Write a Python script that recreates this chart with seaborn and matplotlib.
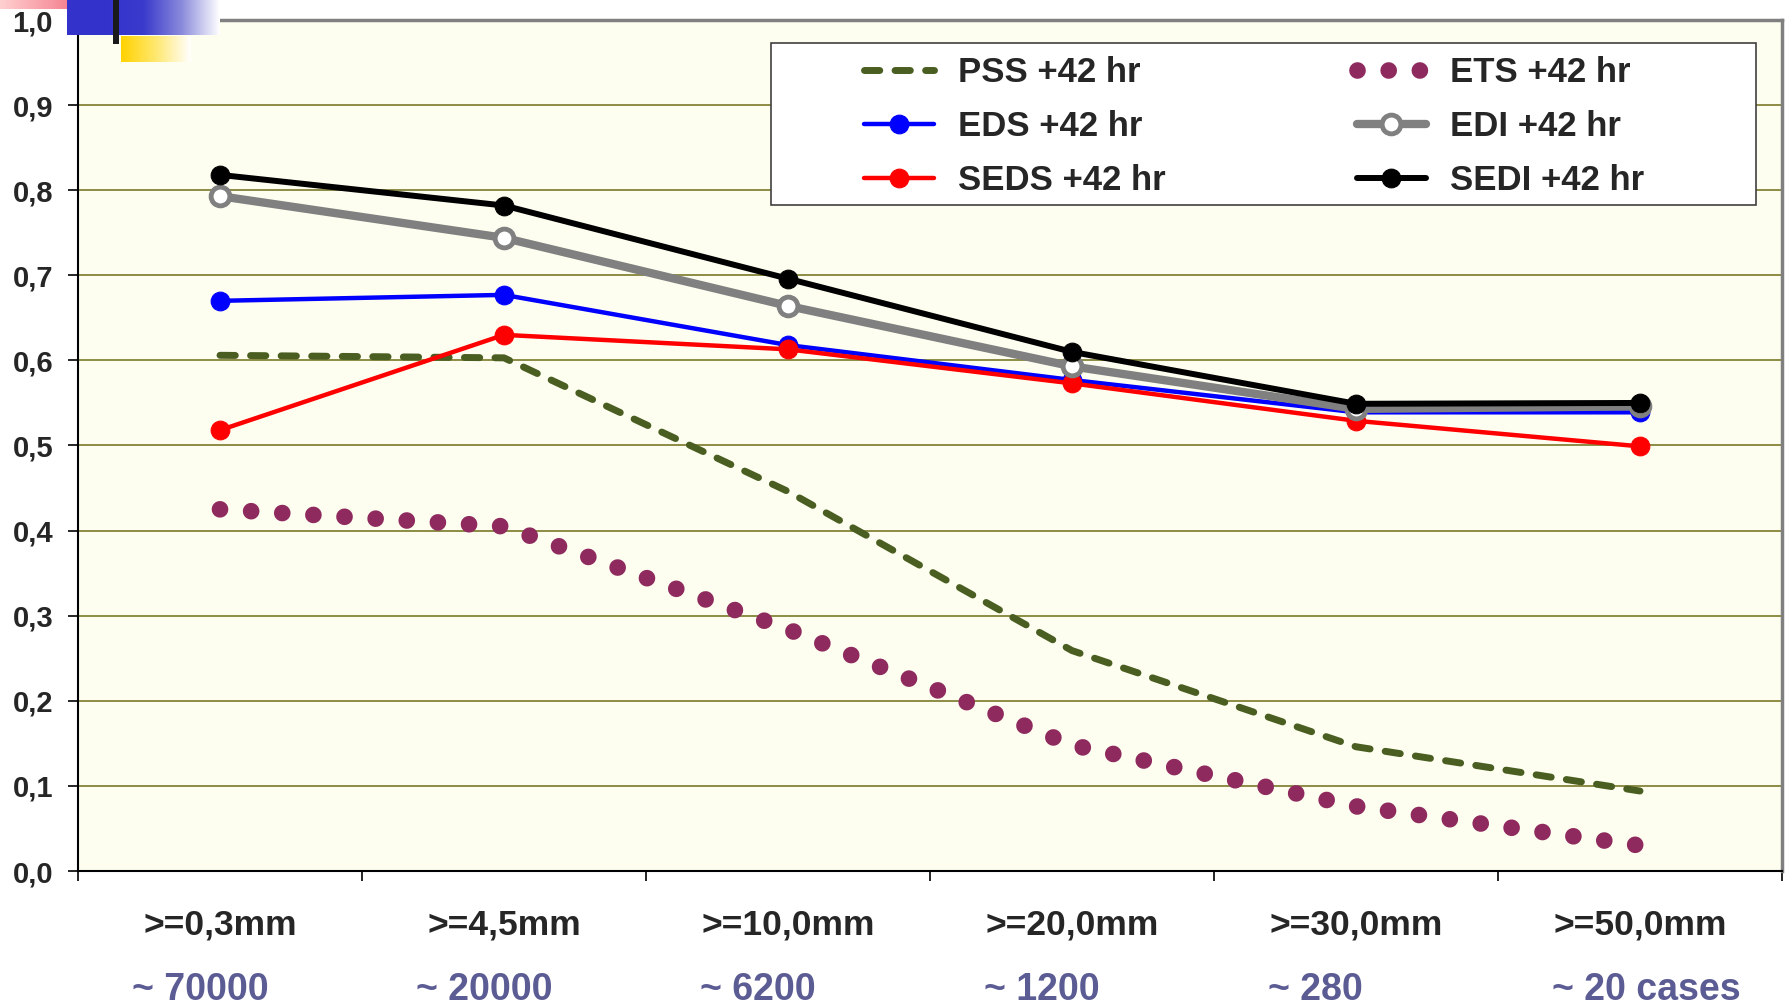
import numpy as np
import pandas as pd
import matplotlib
matplotlib.use("Agg")
import matplotlib.pyplot as plt
from matplotlib.patches import Rectangle
from matplotlib.colors import LinearSegmentedColormap
from matplotlib.transforms import ScaledTranslation
import seaborn as sns

# ---- data -------------------------------------------------------------
thresholds = [">=0,3mm", ">=4,5mm", ">=10,0mm", ">=20,0mm", ">=30,0mm", ">=50,0mm"]
case_counts = ["~ 70000", "~ 20000", "~ 6200", "~ 1200", "~ 280", "~ 20 cases"]

pss = [0.606, 0.603, 0.446, 0.259, 0.146, 0.094]
ets = [0.425, 0.405, 0.284, 0.148, 0.076, 0.030]
eds = [0.670, 0.677, 0.618, 0.577, 0.539, 0.539]
seds = [0.518, 0.630, 0.613, 0.573, 0.529, 0.499]
edi = [0.793, 0.744, 0.664, 0.593, 0.543, 0.546]
sedi = [0.818, 0.782, 0.696, 0.610, 0.549, 0.550]

y_ticks = [0.0, 0.1, 0.2, 0.3, 0.4, 0.5, 0.6, 0.7, 0.8, 0.9, 1.0]
y_tick_labels = ["0,0", "0,1", "0,2", "0,3", "0,4", "0,5", "0,6", "0,7", "0,8", "0,9", "1,0"]

# ---- style ------------------------------------------------------------
sns.set_style("ticks")
plt.rcParams["font.family"] = ["Liberation Sans", "DejaVu Sans"]
plt.rcParams["font.weight"] = "bold"

W, H = 1788, 1005
fig = plt.figure(figsize=(W / 100, H / 100), dpi=100)
fig.patch.set_facecolor("white")

ax_l, ax_r, ax_t, ax_b = 78, 1782, 20, 871
ax = fig.add_axes([ax_l / W, 1 - ax_b / H, (ax_r - ax_l) / W, (ax_b - ax_t) / H])
ax.set_facecolor("#FEFEF0")

x = np.arange(len(thresholds))
df = pd.DataFrame({"x": x, "PSS": pss, "ETS": ets, "EDS": eds,
                   "SEDS": seds, "EDI": edi, "SEDI": sedi})

grid_col = "#8C8C46"
ax.set_axisbelow(True)
ax.yaxis.grid(True, color=grid_col, lw=1.4)
ax.xaxis.grid(False)

ms = 13.5
# dotted and dashed skill scores
sns.lineplot(data=df, x="x", y="ETS", ax=ax, color="#8E2A5E", lw=12,
             linestyle=(0, (0.001, 1.87)), dash_capstyle="round",
             label="ETS +42 hr", zorder=3)
sns.lineplot(data=df, x="x", y="PSS", ax=ax, color="#4A5E22", lw=5.0,
             linestyle=(0, (2.2, 2.2)), dash_capstyle="round",
             label="PSS +42 hr", zorder=3)

# solid lines with markers
sns.lineplot(data=df, x="x", y="EDS", ax=ax, color="#0000FF", lw=3.2,
             marker="o", markersize=ms, markeredgecolor="#0000FF",
             label="EDS +42 hr", zorder=4)
sns.lineplot(data=df, x="x", y="SEDS", ax=ax, color="#FF0000", lw=3.2,
             marker="o", markersize=ms, markeredgecolor="#FF0000",
             label="SEDS +42 hr", zorder=5)
sns.lineplot(data=df, x="x", y="EDI", ax=ax, color="#808080", lw=6.0,
             marker="o", markersize=ms, markerfacecolor="white",
             markeredgecolor="#808080", markeredgewidth=3.5,
             label="EDI +42 hr", zorder=6)
sns.lineplot(data=df, x="x", y="SEDI", ax=ax, color="#000000", lw=4.3,
             marker="o", markersize=ms, markeredgecolor="#000000",
             label="SEDI +42 hr", zorder=7)

# ---- axes -------------------------------------------------------------
ax.set_xlim(-0.5, len(thresholds) - 0.5)
ax.set_ylim(0, 1.0)
ax.set_xlabel("")
ax.set_ylabel("")

ax.set_yticks(y_ticks)
ax.set_yticklabels(y_tick_labels, fontsize=21, fontweight="bold")
ax.tick_params(axis="y", length=7, width=1.2, pad=11, color="black")

ax.set_xticks(x)
ax.set_xticklabels(thresholds, fontsize=25.5, fontweight="bold")
ax.set_xticks(np.arange(len(thresholds) + 1) - 0.5, minor=True)
ax.tick_params(axis="x", which="major", length=0, pad=27)
ax.tick_params(axis="x", which="minor", length=7, width=1.2, color="black")

# second row: number of cases, left-aligned a little before each category
sec = ax.secondary_xaxis("bottom")
sec.set_xticks(x)
sec.set_xticklabels(case_counts, fontsize=27, fontweight="bold",
                    color="#5C5C94", ha="left")
sec.tick_params(axis="x", length=0, pad=73)
sec.spines["bottom"].set_visible(False)
shift = ScaledTranslation(-0.88, 0, fig.dpi_scale_trans)
for lab in sec.get_xticklabels():
    lab.set_transform(lab.get_transform() + shift)

for side in ("left", "bottom"):
    ax.spines[side].set_color("black")
    ax.spines[side].set_linewidth(1.5)
for side in ("top", "right"):
    ax.spines[side].set_visible(True)
    ax.spines[side].set_color("#808080")
    ax.spines[side].set_linewidth(2.5)

# ---- legend -----------------------------------------------------------
handles, labels = ax.get_legend_handles_labels()
order = ["PSS +42 hr", "EDS +42 hr", "SEDS +42 hr",
         "ETS +42 hr", "EDI +42 hr", "SEDI +42 hr"]
hmap = dict(zip(labels, handles))
box_x0, box_x1 = (771 - ax_l) / (ax_r - ax_l), (1756 - ax_l) / (ax_r - ax_l)
box_y0, box_y1 = (ax_b - 205) / (ax_b - ax_t), (ax_b - 43) / (ax_b - ax_t)
ax.add_patch(Rectangle((box_x0, box_y0), box_x1 - box_x0, box_y1 - box_y0,
                       transform=ax.transAxes, facecolor="white",
                       edgecolor="#404040", lw=1.2, zorder=9))
leg = ax.legend([hmap[k] for k in order], order, ncol=2, frameon=False,
                loc="center",
                bbox_to_anchor=((box_x0 + box_x1) / 2 - 0.0053,
                                (box_y0 + box_y1) / 2 - 0.0033),
                prop={"size": 25, "weight": "bold"},
                handlelength=2.0, handletextpad=0.7, columnspacing=5.5,
                labelspacing=0.6, borderpad=0.2)
leg.set_zorder(10)

# ---- slide ornament in the top-left corner ----------------------------
def gradient(x0, y0, x1, y1, colors, z=20):
    a = fig.add_axes([x0 / W, 1 - y1 / H, (x1 - x0) / W, (y1 - y0) / H])
    cmap = LinearSegmentedColormap.from_list("g", colors)
    a.imshow(np.linspace(0, 1, 256)[None, :], aspect="auto", cmap=cmap,
             extent=[0, 1, 0, 1], interpolation="bilinear")
    a.set_axis_off()
    a.set_zorder(z)
    return a

gradient(0, 0, 98, 9, ["#FFD0D0", "#F89AA4", "#EC6070"], z=19)
gradient(67, 0, 220, 35, ["#3333CC", "#3333CC", "#3A3ACC", "#8A8ADC", "#FFFFFF"])
gradient(121, 36, 190, 62, ["#FFD200", "#FFE870", "#FFFFFF"])
bar = fig.add_axes([113 / W, 1 - 44 / H, 6 / W, 44 / H])
bar.set_facecolor("#1A1A1A")
bar.set_xticks([]); bar.set_yticks([])
for s in bar.spines.values():
    s.set_visible(False)
bar.set_zorder(21)

fig.savefig("out.png", dpi=100, facecolor="white")
